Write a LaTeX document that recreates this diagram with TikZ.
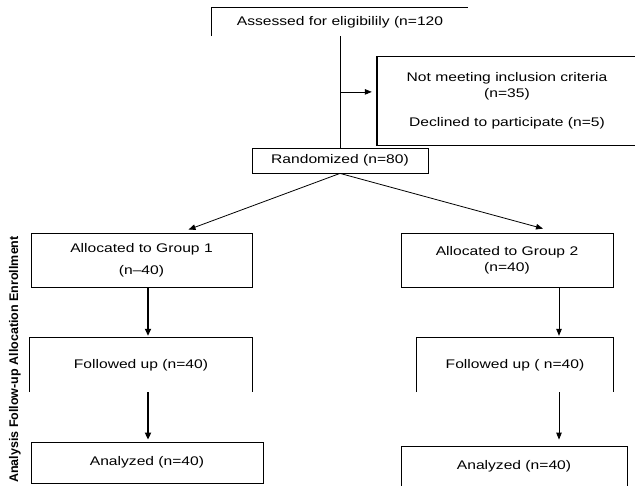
\documentclass[tikz,border=0pt]{standalone}
\usepackage{fontspec}
\setmainfont{Liberation Sans}[FakeStretch=1.25]
\newfontfamily\sidefont{Liberation Sans}
\usetikzlibrary{arrows.meta}
\tikzset{
  txt/.style={font=\fontsize{12.5}{16}\selectfont, align=center, inner sep=0pt},
  frame/.style={draw=black, line width=0.8pt},
  arr/.style={-{Triangle[length=7pt,width=5.5pt]}, line width=0.8pt},
  thickarr/.style={-{Triangle[length=7pt,width=6pt]}, line width=1.8pt},
}
\begin{document}
\begin{tikzpicture}[x=1pt,y=-1pt]
\useasboundingbox (0,0) rectangle (635,485);
\fill[white] (0,0) rectangle (635,485);
\clip (0,0) rectangle (635,485);

% enrollment
\node[txt, minimum width=256pt, minimum height=28pt] (assess) at (340,22) {Assessed for eligibilily (n=120};
\draw[line width=0.8pt] (assess.south west) -- (assess.north west) -- (assess.north east);

\node[txt, frame, minimum width=176pt, minimum height=25pt] (rand) at (340,160.5) {Randomized (n=80)};
\draw[line width=0.8pt] (assess.south) -- (rand.north);
\path (assess.south) -- (rand.north) coordinate[pos=0.5] (branch);

\node[txt, minimum width=260pt, minimum height=88pt] (excl) at (507,101)
  {Not meeting inclusion criteria\\(n=35)\\[13pt]Declined to participate (n=5)};
\draw[frame] (excl.south west) rectangle (excl.north east);
\draw[line width=1.8pt] (excl.south west) -- (excl.north west);
\draw[arr, shorten >=5pt] (branch) -- (excl.west |- branch);

% allocation
\node[txt, frame, minimum width=221pt, minimum height=54pt] (g1) at (141.5,260) {Allocated to Group 1\\[6pt](n–40)};
\node[txt, frame, minimum width=212pt, minimum height=54pt] (g2) at (507,260) {Allocated to Group 2\\(n=40)};
\draw[arr] (rand.south) -- ([xshift=47pt,yshift=3pt]g1.north);
\draw[arr] (rand.south) -- ([xshift=36pt,yshift=4pt]g2.north);

% follow-up
\node[txt, minimum width=222pt, minimum height=54pt] (f1) at (141,365) {Followed up (n=40)};
\draw[frame] (f1.south west) -- (f1.north west) -- (f1.north east) -- (f1.south east);
\node[txt, minimum width=196pt, minimum height=54pt] (f2) at (515,365) {Followed up ( n=40)};
\draw[frame] (f2.south west) -- (f2.north west) -- (f2.north east) -- (f2.south east);

\draw[thickarr, shorten >=2pt] ([xshift=6.5pt]g1.south) -- ([xshift=6.5pt]g1.south |- f1.north);
\draw[arr, shorten >=2pt] ([xshift=52pt]g2.south) -- ([xshift=52pt]g2.south |- f2.north);

% analysis
\node[txt, frame, minimum width=232pt, minimum height=41pt] (a1) at (147,462.5) {Analyzed (n=40)};
\node[txt, frame, minimum width=226pt, minimum height=40pt] (a2) at (514,466) {Analyzed (n=40)};
\draw[thickarr, shorten >=2pt] ([xshift=1pt]a1.north |- f1.south) -- ([xshift=1pt]a1.north);
\draw[arr, shorten >=6pt] ([xshift=52pt]g2.south |- f2.south) -- ([xshift=52pt]g2.south |- a2.north);

% side label
\node[rotate=90, inner sep=0pt, font=\sidefont\bfseries\fontsize{12.5}{14}\selectfont] (side) at (15,359.5)
  {Analysis Follow-up Allocation Enrollment};
\end{tikzpicture}
\end{document}
